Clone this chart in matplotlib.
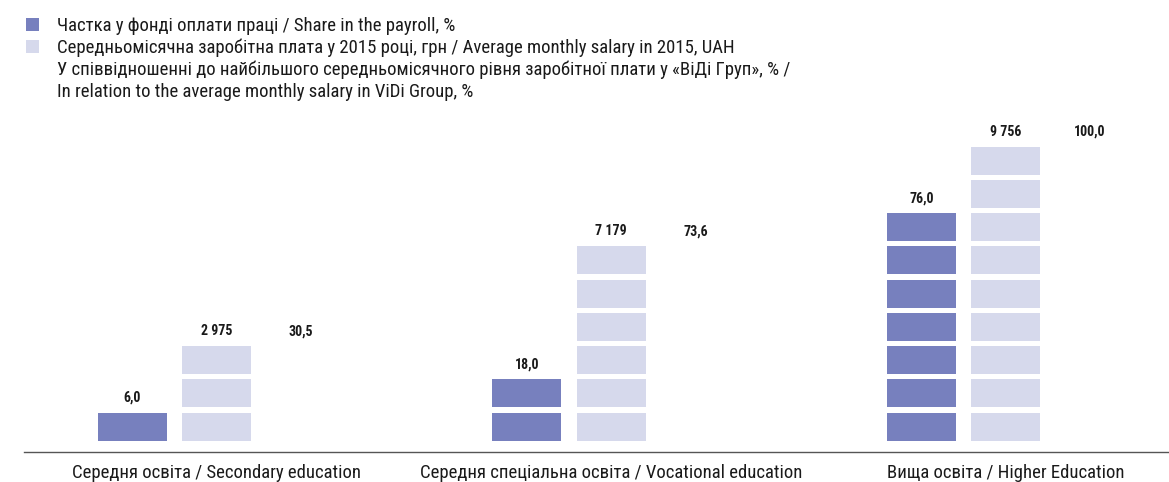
import matplotlib
matplotlib.use("Agg")
import matplotlib.pyplot as plt
from matplotlib.patches import Patch

# ---- data ----
categories = [
    "Середня освіта / Secondary education",
    "Середня спеціальна освіта / Vocational education",
    "Вища освіта / Higher Education",
]
payroll_share = [6.0, 18.0, 76.0]          # %
avg_salary = [2975, 7179, 9756]            # UAH
relative_pct = [30.5, 73.6, 100.0]         # % of max
payroll_blocks = [1, 2, 7]                 # number of stacked tiles drawn
salary_blocks = [3, 6, 9]
series_names = [
    "Частка у фонді оплати праці / Share in the payroll, %",
    "Середньомісячна заробітна плата у 2015 році, грн / Average monthly salary in 2015, UAH",
    "У співвідношенні до найбільшого середньомісячного рівня заробітної плати у «ВіДі Груп», % /\n"
    "In relation to the average monthly salary in ViDi Group, %",
]

DARK = "#7780BE"
LIGHT = "#D6D9EC"
TXT = "#1a1a1a"

plt.rcParams['font.family'] = ['Roboto Condensed', 'DejaVu Sans']

W, H = 1169, 482
fig = plt.figure(figsize=(W / 100, H / 100), dpi=100)
ax_top_px, ax_bot_px, ax_left_px = 110, 452.3, 24
ax = fig.add_axes([ax_left_px / W, 1 - ax_bot_px / H, 1 - ax_left_px / W, (ax_bot_px - ax_top_px) / H])

off = 0.2137
bw = 0.175
tile = 0.842
pitch_px = 33.25
ymin = -(ax_bot_px - 440.7) / pitch_px
ymax = (440.7 - ax_top_px) / pitch_px

def tiles(xs, counts):
    bx, bb = [], []
    for x, n in zip(xs, counts):
        for k in range(n):
            bx.append(x)
            bb.append(k)
    return bx, bb

x = list(range(len(categories)))
px, pb = tiles([i - off for i in x], payroll_blocks)
sx, sb = tiles(x, salary_blocks)
ax.bar(px, [tile] * len(px), bottom=pb, width=bw, color=DARK, linewidth=0)
ax.bar(sx, [tile] * len(sx), bottom=sb, width=bw, color=LIGHT, linewidth=0)

lab_gap = 0.45
for i in x:
    ptop = payroll_blocks[i] - 1 + tile
    stop = salary_blocks[i] - 1 + tile
    ax.text(i - off, ptop + lab_gap, f"{payroll_share[i]:.1f}".replace(".", ","),
            ha='center', va='center', fontsize=10, fontweight='bold', color=TXT)
    ax.text(i, stop + lab_gap, f"{avg_salary[i]:,.0f}".replace(",", " "),
            ha='center', va='center', fontsize=10, fontweight='bold', color=TXT)
    ax.text(i + off, stop + lab_gap, f"{relative_pct[i]:.1f}".replace(".", ","),
            ha='center', va='center', fontsize=10, fontweight='bold', color=TXT)

ax.set_xlim(-0.488, 2.414)
ax.set_ylim(ymin, ymax)
for s in ('top', 'right', 'left'):
    ax.spines[s].set_visible(False)
ax.spines['bottom'].set_color('#555555')
ax.spines['bottom'].set_linewidth(1.0)
ax.set_yticks([])
ax.set_xticks(x, categories, fontsize=13.5, color=TXT)
ax.tick_params(axis='x', length=0, pad=8.5)
ax.patch.set_visible(False)

handles = [Patch(facecolor=DARK, edgecolor='none'),
           Patch(facecolor=LIGHT, edgecolor='none'),
           Patch(facecolor='none', edgecolor='none')]
leg = fig.legend(handles, series_names, loc='upper left',
                 bbox_to_anchor=(26 / W, 1 - 17 / H), frameon=False,
                 fontsize=13.5, handlelength=0.7, handleheight=0.7,
                 handletextpad=0.96, labelspacing=0.18, borderpad=0,
                 borderaxespad=0, labelcolor=TXT)
for t in leg.get_texts():
    t.set_linespacing(1.3)

fig.savefig("out.png", dpi=100)
